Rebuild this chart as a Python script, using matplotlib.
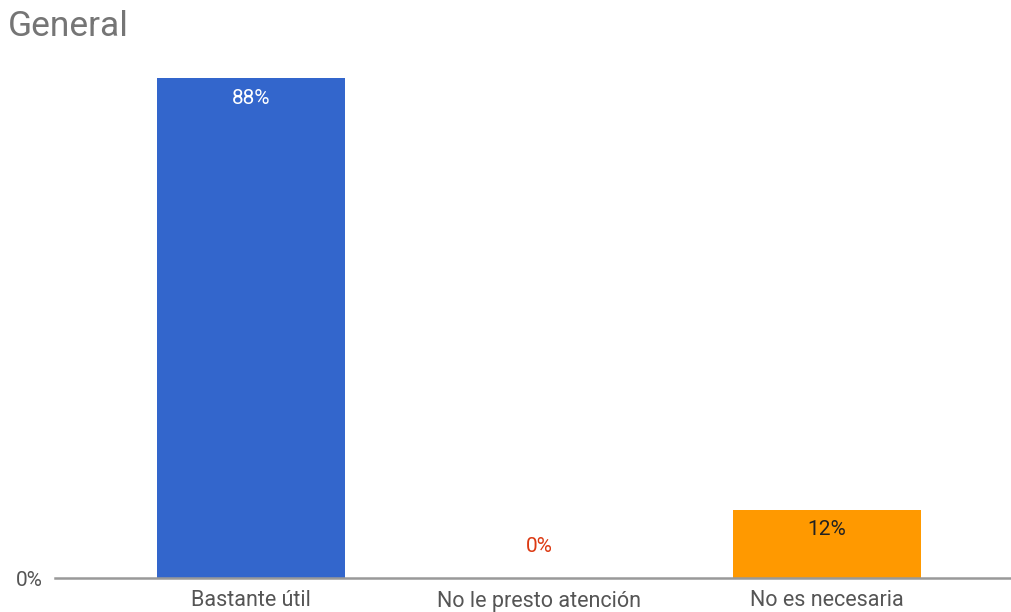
import matplotlib.pyplot as plt

plt.rcParams['font.family'] = ['Roboto', 'DejaVu Sans']

categories = ["Bastante útil", "No le presto atención", "No es necesaria"]
values = [88, 0, 12]
value_labels = ["88%", "0%", "12%"]
colors = ["#3366CC", "#DC3912", "#FF9900"]
label_colors = ["#FFFFFF", "#DC3912", "#222222"]

fig = plt.figure(figsize=(10.12, 6.12), dpi=100)
ax = fig.add_axes([55 / 1012, 34 / 612, 957 / 1012, 500 / 612])

x = range(len(categories))
ax.bar(x, values, width=0.653, color=colors, zorder=2)

for i, (v, lab, c) in enumerate(zip(values, value_labels, label_colors)):
    if v > 0:
        ax.annotate(lab, (i, v), xytext=(0, -20), textcoords='offset pixels',
                    ha='center', va='center', color=c, fontsize=15)
    else:
        ax.annotate(lab, (i, v), xytext=(0, 31), textcoords='offset pixels',
                    ha='center', va='center', color=c, fontsize=15)

ax.set_xlim(-0.681, 2.642)
ax.set_ylim(0, 88)
ax.set_xticks(list(x))
ax.set_xticklabels(categories, fontsize=15.5, color="#555555")
ax.set_yticks([0])
ax.set_yticklabels(["0%"], fontsize=15, color="#555555")
ax.tick_params(axis='x', length=0, pad=9)
ax.tick_params(axis='y', length=0, pad=9)
for s in ["top", "right", "left"]:
    ax.spines[s].set_visible(False)
ax.spines["bottom"].set_color("#999999")
ax.spines["bottom"].set_linewidth(1.8)
ax.spines["bottom"].set_zorder(3)

fig.text(8 / 1012, 1 - 26 / 612, "General", fontsize=25.5, color="#757575",
         ha='left', va='center')

fig.savefig("out.png", dpi=100)
